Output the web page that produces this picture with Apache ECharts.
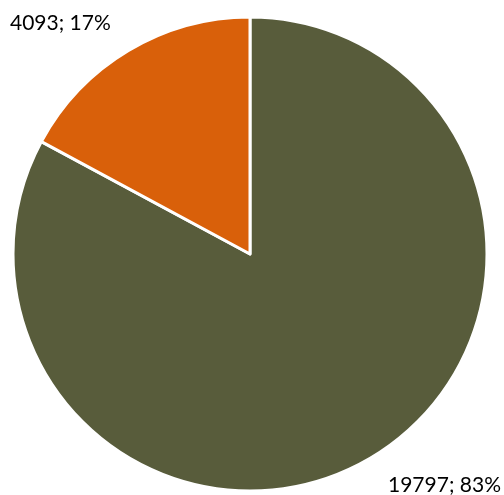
<!DOCTYPE html>
<html><head><meta charset="utf-8">
<script src="https://cdn.jsdelivr.net/npm/echarts@6/dist/echarts.min.js"></script>
<style>html,body{margin:0;padding:0;background:#fff}#c{width:504px;height:495px}</style>
</head><body><div id="c"></div>
<script>
var categories = ['A', 'B'];
var values = [19797, 4093];
var colors = ['#585C3B', '#D9600A'];
var total = values.reduce(function(a,b){return a+b;},0);
var chart = echarts.init(document.getElementById('c'));
chart.setOption({
  animation: false,
  series: [{
    type: 'pie',
    center: [250, 254],
    radius: [0, 237],
    startAngle: 90,
    clockwise: true,
    avoidLabelOverlap: false,
    itemStyle: { borderColor: '#fff', borderWidth: 3 },
    label: {
      show: true,
      position: 'outside',
      fontFamily: 'Lato',
      fontSize: 21,
      color: '#000',
      overflow: 'none',
      width: 200,
      formatter: function(p){ return p.value + '; ' + Math.round(p.value/total*100) + '%'; }
    },
    labelLine: { show: false },
    labelLayout: function(params){
      if (params.dataIndex === 0) return { x: 388, y: 485, align: 'left', verticalAlign: 'middle' };
      return { x: 10, y: 23, align: 'left', verticalAlign: 'middle' };
    },
    data: categories.map(function(c,i){ return { name: c, value: values[i], itemStyle: { color: colors[i] } }; })
  }]
});
</script></body></html>
